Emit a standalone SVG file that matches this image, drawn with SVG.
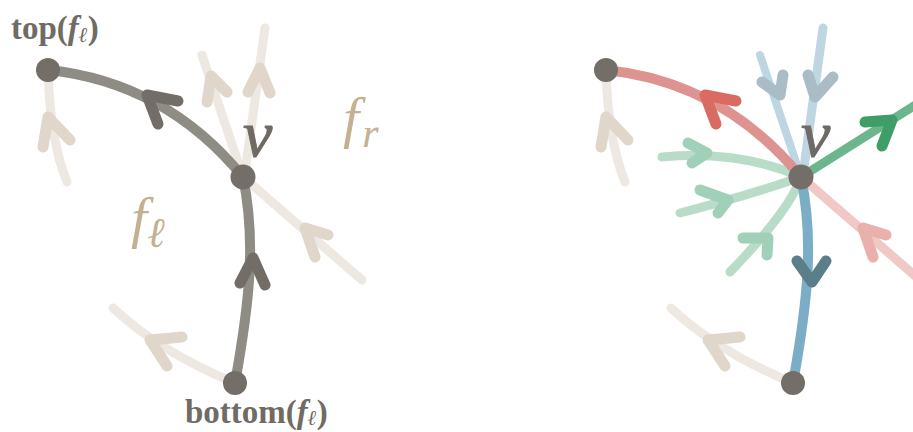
<svg xmlns="http://www.w3.org/2000/svg" width="913" height="432" viewBox="0 0 913 432">
<style>
.e{fill:none;stroke-linecap:round;stroke-linejoin:round}
.a{fill:none;stroke-linecap:round;stroke-linejoin:round;stroke-width:11}
.faint{stroke:#ede8e1;stroke-width:9}
.faintA{stroke:#e0d6ca}
.gray{stroke:#8f8b85;stroke-width:10}
.grayA{stroke:#726d67}
.node{fill:#736e68}
.lbl{font-family:"Liberation Serif","DejaVu Serif",serif;font-weight:bold;fill:#706b65;font-size:33px}
.math{font-family:"Liberation Serif","DejaVu Serif",serif;font-style:italic}
.tan{fill:#c3b192}
</style>
<rect width="913" height="432" fill="#ffffff"/>
<g id="connectors">
  <!-- left panel faint edges -->
  <path class="e faint" d="M245,172 L265,28"/>
  <path class="a faintA" d="M248,92 L260,68 L270,93"/>
  <path class="e faint" d="M243,177 L202,55"/>
  <path class="a faintA" d="M207,102 L211,76 L227,92"/>
  <path class="e faint" d="M243,177 L362,280"/>
  <path class="a faintA" d="M328,235 L305,228 L315,257"/>
  <path class="e faint" d="M48,70 Q50,140 67,182"/>
  <path class="a faintA" d="M43,147 L48,117 L70,140"/>
  <path class="e faint" d="M235,383 Q160,352 113,308"/>
  <path class="a faintA" d="M182,337 L150,340 L167,366"/>
  <!-- left gray -->
  <path class="e gray" d="M48,70 Q165,82 243,177"/>
  <path class="a grayA" d="M178,101 L147,95 L158,124"/>
  <path class="e gray" d="M235,383 C250,300 256,240 243,177"/>
  <path class="a grayA" d="M240,283 L253,258 L265,285"/>

  <!-- right panel faint edges -->
  <path class="e faint" d="M606,70 Q608,140 625,182"/>
  <path class="a faintA" d="M601,147 L606,117 L628,140"/>
  <path class="e faint" d="M793,383 Q718,352 671,308"/>
  <path class="a faintA" d="M740,337 L708,340 L725,366"/>
  <!-- light blue -->
  <path class="e" stroke="#bdd6e2" stroke-width="9" d="M823,28 L803,175"/>
  <path class="a" stroke="#aabcc6" d="M808,75 L815,97 L833,77"/>
  <path class="e" stroke="#bdd6e2" stroke-width="8" d="M760,55 L801,177"/>
  <path class="a" stroke="#aabcc6" d="M762,82 L780,95 L783,75"/>
  <!-- light green -->
  <path class="e" stroke="#b9dcc8" stroke-width="9" d="M662,157 Q740,150 801,177"/>
  <path class="a" stroke="#a0d0b8" d="M688,143 L707,153 L692,163"/>
  <path class="e" stroke="#b9dcc8" stroke-width="9" d="M680,213 Q750,195 801,177"/>
  <path class="a" stroke="#a0d0b8" d="M700,190 L728,200 L718,213"/>
  <path class="e" stroke="#b9dcc8" stroke-width="9" d="M730,272 Q790,210 801,177"/>
  <path class="a" stroke="#a0d0b8" d="M743,238 L768,238 L767,255"/>
  <!-- light red -->
  <path class="e" stroke="#f0c8c5" stroke-width="9" d="M801,177 L920,280"/>
  <path class="a" stroke="#e9b0ac" d="M886,235 L863,228 L873,257"/>
  <!-- red -->
  <path class="e" stroke="#df9391" stroke-width="10" d="M606,70 Q723,82 801,177"/>
  <path class="a" stroke="#d96b62" d="M736,101 L705,95 L716,124"/>
  <!-- green -->
  <path class="e" stroke="#6db68d" stroke-width="9" d="M801,177 L925,99"/>
  <path class="a" stroke="#3f9d68" d="M865,122 L892,120 L882,146"/>
  <!-- blue -->
  <path class="e" stroke="#7badc6" stroke-width="10" d="M793,383 C808,300 814,240 801,177"/>
  <path class="a" stroke="#5b7f8a" d="M797,261 L812,282 L826,261"/>
</g>
<g id="node-top-left"><circle class="node" cx="48" cy="70" r="12"/></g>
<g id="node-v-left"><circle class="node" cx="243" cy="177" r="12.5"/></g>
<g id="node-bottom-left"><circle class="node" cx="235" cy="383" r="12"/></g>
<g id="node-top-right"><circle class="node" cx="606" cy="70" r="12"/></g>
<g id="node-v-right"><circle class="node" cx="801" cy="177" r="12.5"/></g>
<g id="node-bottom-right"><circle class="node" cx="793" cy="383" r="12"/></g>
<g id="labels">
  <text class="lbl" x="11" y="39">top(<tspan class="math">f</tspan><tspan class="math" font-size="21" dy="3">ℓ</tspan><tspan dy="-3">)</tspan></text>
  <text class="lbl" x="185" y="423">bottom(<tspan class="math">f</tspan><tspan class="math" font-size="21" dy="2">ℓ</tspan><tspan dy="-2">)</tspan></text>
  <text class="math" x="243" y="156" font-size="66" fill="#6f6a64" stroke="#6f6a64" stroke-width="1">v</text>
  <text class="math" x="801" y="156" font-size="66" fill="#6f6a64" stroke="#6f6a64" stroke-width="1">v</text>
  <text class="math tan" x="343" y="137" font-size="58">f<tspan font-size="42" dx="3" dy="10">r</tspan></text>
  <text class="math tan" x="131" y="237" font-size="58">f<tspan font-size="42" dy="10">ℓ</tspan></text>
</g>
</svg>
